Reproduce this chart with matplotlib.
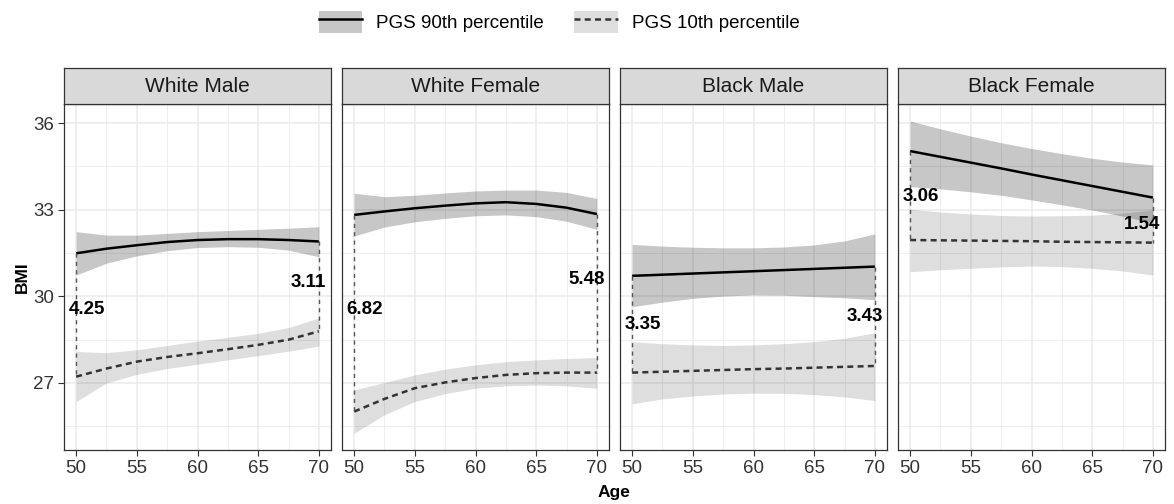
import matplotlib
matplotlib.use('Agg')
import matplotlib.pyplot as plt
from matplotlib.patches import Patch
from matplotlib.lines import Line2D
from matplotlib.ticker import MultipleLocator

plt.rcParams['font.family'] = ['Liberation Sans', 'DejaVu Sans']

# data
panels = ['White Male', 'White Female', 'Black Male', 'Black Female']
ages = [50, 52.5, 55, 57.5, 60, 62.5, 65, 67.5, 70]

hi_fit = [
    [31.49, 31.65, 31.77, 31.88, 31.95, 31.98, 31.98, 31.95, 31.90],
    [32.82, 32.94, 33.05, 33.14, 33.22, 33.26, 33.20, 33.07, 32.85],
    [30.71, 30.75, 30.79, 30.83, 30.87, 30.91, 30.95, 30.99, 31.03],
    [35.03, 34.83, 34.63, 34.43, 34.22, 34.02, 33.82, 33.62, 33.42],
]
hi_upper = [
    [32.24, 32.12, 32.12, 32.18, 32.24, 32.28, 32.32, 32.36, 32.41],
    [33.57, 33.45, 33.50, 33.58, 33.65, 33.68, 33.68, 33.60, 33.39],
    [31.80, 31.74, 31.70, 31.68, 31.68, 31.71, 31.78, 31.92, 32.16],
    [36.07, 35.80, 35.55, 35.32, 35.12, 34.94, 34.78, 34.65, 34.55],
]
hi_lower = [
    [30.74, 31.15, 31.40, 31.58, 31.69, 31.72, 31.70, 31.60, 31.37],
    [32.09, 32.40, 32.58, 32.70, 32.79, 32.82, 32.76, 32.60, 32.32],
    [29.64, 29.80, 29.93, 30.01, 30.05, 30.04, 29.99, 29.95, 29.88],
    [33.80, 33.72, 33.62, 33.50, 33.34, 33.17, 32.99, 32.78, 32.53],
]
lo_fit = [
    [27.22, 27.50, 27.74, 27.90, 28.03, 28.17, 28.32, 28.50, 28.79],
    [26.01, 26.45, 26.82, 27.02, 27.17, 27.28, 27.34, 27.36, 27.36],
    [27.36, 27.39, 27.42, 27.45, 27.48, 27.50, 27.53, 27.56, 27.59],
    [31.95, 31.94, 31.93, 31.92, 31.91, 31.89, 31.88, 31.87, 31.86],
]
lo_upper = [
    [28.09, 28.05, 28.15, 28.30, 28.45, 28.58, 28.72, 28.92, 29.25],
    [26.76, 27.02, 27.28, 27.48, 27.63, 27.74, 27.80, 27.85, 27.88],
    [28.43, 28.36, 28.32, 28.30, 28.32, 28.36, 28.43, 28.55, 28.74],
    [33.02, 32.92, 32.85, 32.80, 32.78, 32.79, 32.81, 32.88, 32.99],
]
lo_lower = [
    [26.36, 27.00, 27.30, 27.50, 27.65, 27.80, 27.95, 28.10, 28.28],
    [25.26, 25.90, 26.36, 26.63, 26.82, 26.90, 26.93, 26.90, 26.82],
    [26.28, 26.45, 26.55, 26.62, 26.65, 26.64, 26.60, 26.52, 26.39],
    [30.85, 30.92, 30.97, 31.02, 31.05, 31.03, 30.97, 30.88, 30.74],
]
gap_labels = [['4.25', '3.11'], ['6.82', '5.48'], ['3.35', '3.43'], ['3.06', '1.54']]
gap_label_y = [[29.53, 30.47], [29.53, 30.59], [29.01, 29.30], [33.47, 32.50]]

W, H = 1174, 504
fig = plt.figure(figsize=(W / 100, H / 100), dpi=100)

hi_fill = (0, 0, 0, 0.22)
lo_fill = (0, 0, 0, 0.13)
edge = '#333333'

panel_left = [64, 342, 620, 898]
pw = 267
top, bottom, strip_h = 104, 450, 36

for i, name in enumerate(panels):
    ax = fig.add_axes([panel_left[i] / W, (H - bottom) / H, pw / W, (bottom - top) / H])
    ax.fill_between(ages, hi_lower[i], hi_upper[i], color=hi_fill, lw=0)
    ax.fill_between(ages, lo_lower[i], lo_upper[i], color=lo_fill, lw=0)
    ax.plot(ages, hi_fit[i], color='black', lw=1.8, solid_capstyle='butt')
    ax.plot(ages, lo_fit[i], color=edge, lw=1.8, ls=(0, (2.4, 1.7)))

    # vertical gap connectors at the ends
    for j, k in enumerate([0, -1]):
        ax.plot([ages[k], ages[k]], [hi_fit[i][k], lo_fit[i][k]],
                color='#555555', lw=1.0, ls=(0, (3, 3)))
        lx = ages[k] + 0.9 if j == 0 else ages[k] - 0.85
        ax.text(lx, gap_label_y[i][j], gap_labels[i][j], ha='center', va='center',
                fontsize=13.5, fontweight='bold', color='black')

    ax.set_xlim(49, 71)
    ax.set_ylim(24.68, 36.66)
    ax.xaxis.set_major_locator(MultipleLocator(5))
    ax.xaxis.set_minor_locator(MultipleLocator(2.5))
    ax.set_yticks([27, 30, 33, 36])
    ax.set_yticks([25.5, 28.5, 31.5, 34.5], minor=True)
    ax.grid(which='major', color='#ebebeb', lw=1.1)
    ax.grid(which='minor', color='#ebebeb', lw=0.6)
    ax.set_axisbelow(True)
    ax.tick_params(which='major', length=4, width=0.8, color=edge,
                   labelsize=13.5, labelcolor='#333333', pad=3)
    ax.tick_params(which='minor', length=0)
    if i > 0:
        ax.tick_params(axis='y', labelleft=False, length=0)
    for s in ax.spines.values():
        s.set_color(edge)
        s.set_linewidth(0.9)

    st = fig.add_axes([panel_left[i] / W, (H - top) / H, pw / W, strip_h / H])
    st.set_facecolor('#d9d9d9')
    st.set_xticks([])
    st.set_yticks([])
    for s in st.spines.values():
        s.set_color(edge)
        s.set_linewidth(0.9)
    st.text(0.5, 0.5, name, ha='center', va='center', fontsize=15,
            color='#1a1a1a', transform=st.transAxes)

fig.text(614 / W, 1 - 493 / H, 'Age', ha='center', va='center',
         fontsize=12.5, fontweight='bold')
fig.text(22 / W, 1 - 277 / H, 'BMI', ha='center', va='center',
         fontsize=12.5, fontweight='bold', rotation=90)

handles = [
    (Patch(facecolor=hi_fill, lw=0), Line2D([], [], color='black', lw=1.8)),
    (Patch(facecolor=lo_fill, lw=0), Line2D([], [], color=edge, lw=1.8, ls=(0, (2.4, 1.7)))),
]
fig.legend(handles, ['PGS 90th percentile', 'PGS 10th percentile'],
           loc='center', bbox_to_anchor=(559 / W, 1 - 22 / H), ncol=2,
           frameon=False, fontsize=13.5, handlelength=2.3, handleheight=1.5,
           handletextpad=0.75, columnspacing=1.65)

fig.savefig('out.png', dpi=100)
